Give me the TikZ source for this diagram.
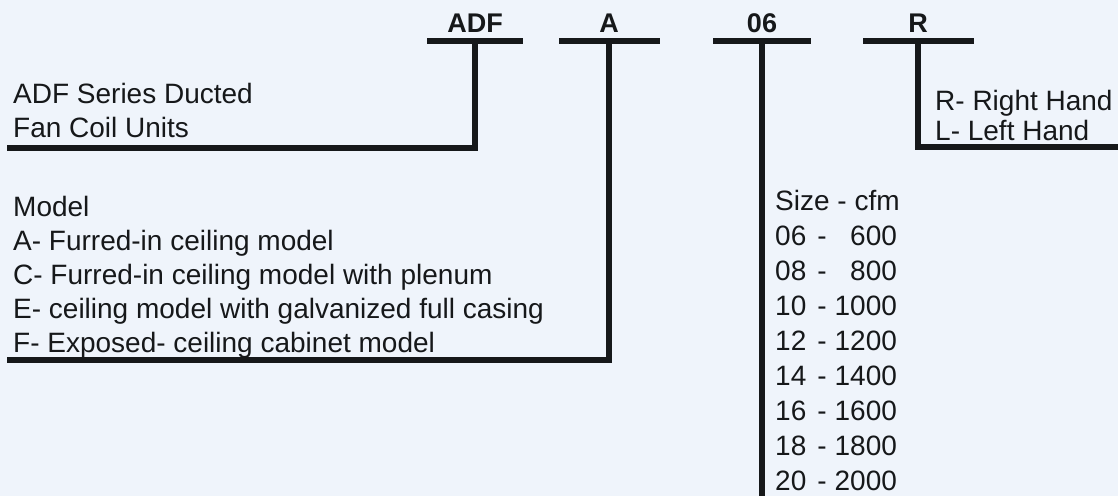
\documentclass[tikz,border=0pt]{standalone}
\usepackage{fontspec}
\setmainfont{Liberation Sans}
\definecolor{bg}{RGB}{239,244,251}
\definecolor{ink}{RGB}{22,24,26}
\begin{document}
\begin{tikzpicture}[x=1pt,y=-1pt,
  bar/.style={line width=6pt, draw=ink},
  lead/.style={line width=6pt, draw=ink, line join=miter},
  code/.style={font=\fontsize{27}{30}\selectfont\bfseries, text=ink, inner sep=0pt, anchor=base},
  desc/.style={font=\fontsize{28}{34}\selectfont, text=ink, inner sep=0pt, anchor=base west}]
\fill[bg] (0,0) rectangle (1118,496);
\useasboundingbox (0,0) rectangle (1118,496);
% code letters
\node[code] (adf) at (475,32) {ADF};
\node[code] (a) at (609,32) {A};
\node[code] (sz) at (762,32) {06};
\node[code] (r) at (918,32) {R};
% bars
\coordinate (adfL) at (427,41); \coordinate (adfR) at (523,41); \coordinate (adfS) at (adf |- adfL);
\coordinate (aL) at (559,41);   \coordinate (aR) at (660,41);   \coordinate (aS) at (a |- aL);
\coordinate (szL) at (713,41);  \coordinate (szR) at (811,41);  \coordinate (szS) at (sz |- szL);
\coordinate (rL) at (863,41);   \coordinate (rR) at (974,41);   \coordinate (rS) at (r |- rL);
\draw[bar] (adfL) -- (adfR);
\draw[bar] (aL) -- (aR);
\draw[bar] (szL) -- (szR);
\draw[bar] (rL) -- (rR);
% lead ends
\coordinate (adfE) at (7,148);
\coordinate (aE) at (7,360);
\coordinate (szE) at (762,496);
\coordinate (rE) at (1118,147);
\draw[lead] (adfS) |- (adfE);
\draw[lead] (aS) |- (aE);
\draw[lead] (szS) -- (szE);
\draw[lead] (rS) |- (rE);
% descriptions
\node[desc] (series) at (13,103) {\begin{tabular}[t]{@{}l@{}}ADF Series Ducted\\Fan Coil Units\end{tabular}};
\node[desc] (model) at (13,216) {\begin{tabular}[t]{@{}l@{}}Model\\A- Furred-in ceiling model\\C- Furred-in ceiling model with plenum\\E- ceiling model with galvanized full casing\\F- Exposed- ceiling cabinet model\end{tabular}};
\node[desc, font=\fontsize{28}{30}\selectfont] (hand) at (935,110) {\begin{tabular}[t]{@{}l@{}}R- Right Hand\\L- Left Hand\end{tabular}};
\node[desc, font=\fontsize{28}{35}\selectfont] (size) at (775,210) {\begin{tabular}[t]{@{}l@{\hspace{11pt}-\hspace{8pt}}r@{}}\multicolumn{2}{@{}l@{}}{\makebox[0pt][l]{Size - cfm}}\\06&600\\08&800\\10&1000\\12&1200\\14&1400\\16&1600\\18&1800\\20&2000\end{tabular}};
\end{tikzpicture}
\end{document}
